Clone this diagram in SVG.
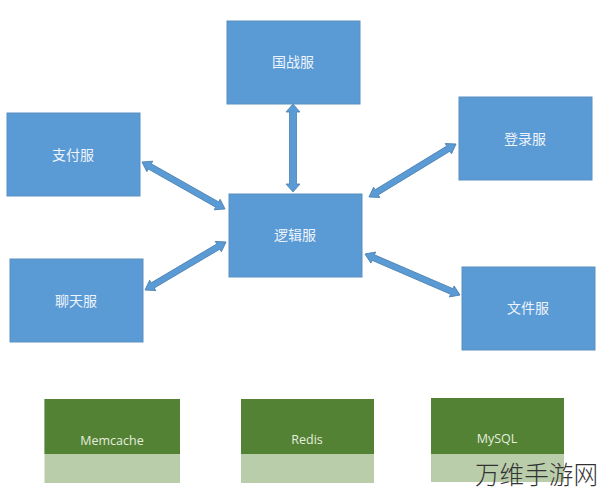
<svg xmlns="http://www.w3.org/2000/svg" width="600" height="494" viewBox="0 0 600 494">
<style>
.n{fill:#5b9bd5;stroke:#5a8fc0;stroke-width:1}
.t{font-family:"Noto Sans CJK SC","Noto Sans",sans-serif;font-size:14px;fill:#eef4fb;text-anchor:middle}
.a{fill:#5b9bd5;stroke:#4a80b0;stroke-width:.8}
.g{fill:#548235}
.l{fill:#b9cdab}
.e{font-family:"Open Sans","Noto Sans",sans-serif;font-size:12.500px;fill:#e4eedd;text-anchor:middle}
.w{font-family:"Noto Sans CJK SC",sans-serif;font-size:24.600px;font-weight:300;fill:#333}
</style>
<rect width="600" height="494" fill="#fff"/>
<g id="connectors">
<path class="a" transform="translate(293 104) rotate(90)" d="M0 0L8 -7V-3.500H80V-7L88 0L80 7V3.500H8V7Z"/>
<path class="a" transform="translate(142 162) rotate(29.5)" d="M0 0L9 -6V-3H86.400V-6L95.400 0L86.400 6V3H9V6Z"/>
<path class="a" transform="translate(369 197) rotate(-31.35)" d="M0 0L9 -6V-3H92.900V-6L101.900 0L92.900 6V3H9V6Z"/>
<path class="a" transform="translate(145 290) rotate(-30.65)" d="M0 0L9 -6V-3H85.200V-6L94.200 0L85.200 6V3H9V6Z"/>
<path class="a" transform="translate(365 254) rotate(23.34)" d="M0 0L9 -6V-3H94.500V-6L103.500 0L94.500 6V3H9V6Z"/>
</g>
<g id="guozhan"><rect class="n" x="227" y="21" width="133" height="83"/><text class="t" x="293" y="67">国战服</text></g>
<g id="zhifu"><rect class="n" x="7" y="113" width="133" height="83"/><text class="t" x="73" y="160">支付服</text></g>
<g id="denglu"><rect class="n" x="459" y="97" width="133" height="83"/><text class="t" x="525" y="144">登录服</text></g>
<g id="luoji"><rect class="n" x="229" y="194" width="133" height="83"/><text class="t" x="295" y="240">逻辑服</text></g>
<g id="liaotian"><rect class="n" x="10" y="259" width="133" height="83"/><text class="t" x="76" y="306">聊天服</text></g>
<g id="wenjian"><rect class="n" x="462" y="267" width="133" height="83"/><text class="t" x="528" y="313">文件服</text></g>
<g id="memcache"><rect class="l" x="44.500" y="399" width="135.500" height="84"/><rect class="g" x="44.500" y="399" width="135.500" height="55"/><text class="e" x="112" y="445">Memcache</text></g>
<g id="redis"><rect class="l" x="241" y="399" width="133" height="84"/><rect class="g" x="241" y="399" width="133" height="55"/><text class="e" x="307" y="444">Redis</text></g>
<g id="mysql"><rect class="l" x="431" y="398" width="133" height="84"/><rect class="g" x="431" y="398" width="133" height="56"/><text class="e" x="497" y="443">MySQL</text></g>
<text class="w" x="475" y="484">万维手游网</text>
</svg>
